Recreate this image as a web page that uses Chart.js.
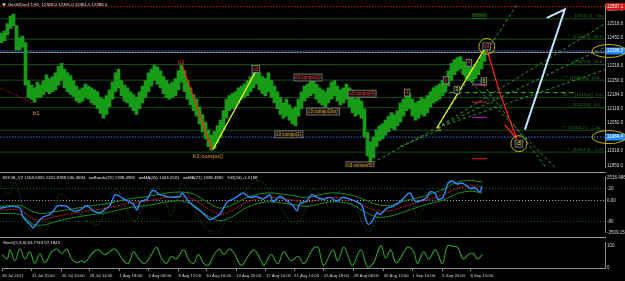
<!DOCTYPE html>
<html>
<head>
<meta charset="utf-8">
<script src="https://cdn.jsdelivr.net/npm/chart.js@4.4.0/dist/chart.umd.min.js"></script>
<style>
html, body { margin: 0; padding: 0; background: #000; }
#wrap { position: relative; width: 625px; height: 281px; background: #000; overflow: hidden; }
canvas { position: absolute; left: 0; }
.sep { position: absolute; left: 0; width: 606px; height: 1px; background: #9a9a9a; }
</style>
</head>
<body>
<div id="wrap">
  <canvas id="priceChart" width="625" height="172" style="top:0"></canvas>
  <div class="sep" style="top:172px"></div>
  <canvas id="boobChart" width="625" height="64" style="top:173px"></canvas>
  <div class="sep" style="top:237px"></div>
  <canvas id="stochChart" width="625" height="43" style="top:238px"></canvas>
</div>
<script>
// Ger30Dec17 H1 - one slot = a few hourly bars
const slotSpan = 201.7;

const priceHigh = [12473, 12482, 12517, 12553, 12562, 12508, 12450, 12459, 12428, 12250,
  12228, 12215, 12242, 12228, 12250, 12277, 12259, 12268, 12286, 12317,
  12330, 12304, 12286, 12273, 12250, 12224, 12206, 12215, 12233, 12224,
  12215, 12206, 12197, 12170, 12162, 12179, 12206, 12242, 12286, 12304,
  12250, 12228, 12215, 12197, 12184, 12170, 12197, 12224, 12250, 12286,
  12304, 12322, 12313, 12295, 12268, 12250, 12233, 12242, 12259, 12295,
  12322, 12295, 12250, 12215, 12184, 12162, 12126, 12090, 12055, 12019,
  11993, 12010, 12037, 12064, 12108, 12162, 12179, 12188, 12197, 12215,
  12224, 12233, 12250, 12268, 12286, 12304, 12286, 12268, 12259, 12286,
  12250, 12224, 12197, 12170, 12144, 12162, 12135, 12117, 12126, 12162,
  12197, 12224, 12233, 12250, 12259, 12233, 12215, 12206, 12197, 12215,
  12242, 12250, 12224, 12206, 12215, 12233, 12215, 12179, 12162, 12170,
  12153, 12117, 12006, 11962, 11984, 12019, 12037, 12046, 12064, 12082,
  12099, 12090, 12108, 12144, 12162, 12179, 12188, 12162, 12144, 12153,
  12170, 12162, 12179, 12197, 12215, 12224, 12233, 12250, 12268, 12295,
  12330, 12348, 12357, 12362, 12339, 12330, 12322, 12313, 12322, 12339,
  12366, 12393];
const priceLow = [12428, 12437, 12464, 12495, 12508, 12393, 12393, 12406, 12228, 12170,
  12162, 12148, 12170, 12170, 12184, 12197, 12188, 12197, 12206, 12228,
  12250, 12215, 12197, 12184, 12175, 12153, 12144, 12153, 12170, 12162,
  12144, 12135, 12117, 12095, 12073, 12090, 12126, 12162, 12197, 12215,
  12179, 12153, 12144, 12126, 12108, 12090, 12117, 12144, 12170, 12197,
  12224, 12250, 12233, 12215, 12188, 12170, 12162, 12170, 12179, 12206,
  12242, 12197, 12162, 12135, 12108, 12082, 12046, 12010, 11975, 11939,
  11922, 11931, 11957, 11984, 12019, 12073, 12108, 12117, 12126, 12144,
  12162, 12170, 12179, 12197, 12215, 12233, 12206, 12188, 12179, 12197,
  12170, 12144, 12117, 12090, 12073, 12082, 12064, 12046, 12037, 12082,
  12117, 12153, 12170, 12179, 12188, 12162, 12144, 12135, 12126, 12144,
  12162, 12179, 12153, 12135, 12144, 12162, 12126, 12099, 12082, 12090,
  12073, 11984, 11895, 11864, 11886, 11939, 11966, 11975, 11993, 12010,
  12028, 12019, 12037, 12055, 12082, 12108, 12117, 12082, 12064, 12073,
  12090, 12082, 12099, 12126, 12144, 12153, 12162, 12179, 12197, 12224,
  12250, 12277, 12295, 12304, 12277, 12259, 12250, 12242, 12259, 12277,
  12304, 12339];

const priceTicks = [12584.0, 12518.0, 12450.0, 12384.0, 12318.0, 12250.0, 12184.0, 12118.0, 12050.0, 11984.0, 11918.0, 11850.0];
const headerText = 'Ger30Dec17,H1  12369.0 12391.0 12361.5 12388.5';

// fibo / target levels drawn across the chart
const fibLevels = [12540.1, 12444.0, 12325.0, 12251.6, 12170.2, 12122.0, 12016.2, 11913.3];
const fibTexts = ['-   [12540.1]   100.0', '*   [12444.0]   38.2', '*   [12325.0]   23.6', '***  [12251.6]   14.6',
  'SL      [12170.2]   0.0', '*   [12122.0]   0.0', '**  [12016.2 ]   -1.4x', '*   [11913.3]   -1.23'];
const fibTextSlot = [190, 189.3, 189.3, 187.7, 187.7, 189.3, 187.7, 189.3];
const slLine = { from: 144.3, to: 191.7, price: 12193 };

const bidPrice = 12388.5;
const askPrice = 12382.0;
const lowLinePrice = 11984.0;
const topLinePrice = 12597.0;
const axisBoxes = [['12597.1', topLinePrice, '#d81414'], ['12388.5', bidPrice, '#1e8cff'], ['11984.4', lowLinePrice, '#1e8cff']];

// hand drawn waves (slot, price)
const waveB1 = [[0, 12215], [11, 12144]];
const waveB2B3 = [[60.7, 12322], [70.7, 11926]];
const waveB3C2 = [[71, 11926], [85.7, 12304]];
const waveC3C4 = [[145.7, 12028], [161.7, 12402]];
const waveC4C5 = [[162.3, 12397], [166.7, 12188], [172.3, 11975]];
const waveC5Tail = [[168.3, 12042], [172.3, 11975]];
const projection = [[182.3, 12544], [188.3, 12584], [175, 12019]];
const fanLines = [
  [[124.3, 11864], [145.7, 12028]],
  [[145.7, 12028], [172.3, 12606]],
  [[145.7, 12028], [201.7, 12517]],
  [[145.7, 12028], [201.7, 12406]],
  [[145.7, 12028], [201.7, 12300]],
  [[133.3, 11939], [146.7, 12019]],
  [[153.3, 12295], [185, 11842]],
  [[160, 12250], [182, 11842]]
];

const waveLabels = ['b1', 'b2', 'b3 compo()', 'c2', 'c3 compo(1)', 'c3 compo(2)', 'c3 compo(3xx)', 'c3 compo(4)', 'c3 compo(5)', '4', 'S', '3', '4', '3', '5', 'c4', 'c5'];
const waveLabelSlot = [11, 59.3, 64.3, 85.3, 96.3, 102.7, 107.7, 120.7, 120, 135.7, 145.7, 148.7, 156.3, 152.3, 161.3, 162.3, 173];
const waveLabelPrice = [12095, 12335, 11895, 12304, 11997, 12264, 12104, 12188, 11851, 12193, 12019, 12251, 12333, 12206, 12246, 12410, 11953];
const waveLabelKind = ['orange', 'red', 'orange', 'redbox', 'orangebox', 'redbox', 'orangebox', 'redbox', 'orangebox', 'redbox', 'yellow', 'redbox', 'redbox', 'yellowbox', 'yellowbox', 'redbox', 'yellowbox'];
const circledMarks = [[162.3, 12410], [173, 11953]];

// short level marks near the last bar
const markFrom = 157.3, markTo = 162.3;
const markPrices = [12562, 12553, 12540, 12233, 12228, 12148, 12077, 11882];
const markColors = ['#1f6a1f', '#1f6a1f', '#1f6a1f', '#2a6cff', '#e02020', '#e02020', '#c020c0', '#e02020'];

// BOOB_V2 sub window
const indMax = 2516.486, indMin = -3509.151;
const blueSlot = [0, 4.3, 6.7, 7.7, 10, 11, 12.3, 14.3, 16.7, 19, 20, 22.3, 24.3, 26.7, 29, 31, 33.3, 34.3, 36.7, 38.3,
  40, 42.3, 44.3, 45.7, 46.7, 49, 51, 53.3, 55.7, 57.7, 60, 60.7, 62.3, 64.3, 66.7, 69, 70, 71.7, 73.3, 75.7,
  77.7, 80, 81, 83.3, 85.7, 87.7, 90, 91, 93.3, 95.7, 97.7, 99, 100, 102.3, 104, 105.7, 107.7, 110, 112.3, 114.3,
  116.7, 119, 120.7, 121.7, 122.7, 124, 125.7, 126.7, 129, 131, 133.3, 135.7, 136.7, 138.3, 140, 142.3, 143.3, 145, 146, 147.7,
  149.3, 150.7, 152.3, 154, 155.7, 156.7, 158.3, 160, 160.7];
const blueVal = [-843, -645, -843, -1831, -2622, -3017, -2523, -1831, -1535, -645, -546, -645, -1140, -1041, -546, -1140, -1337, -1140, -546, 639,
  442, -52, -349, -1041, -151, 145, 1133, 639, 442, 343, 442, 837, 145, -546, -1140, -1831, -2127, -1831, -1535, -151,
  145, 639, 837, 343, 442, 145, 639, -151, 442, -52, -546, -1140, -349, -52, 639, 343, 145, 343, -52, 343,
  145, -151, -546, -1831, -2622, -2325, -1337, -1535, -843, -645, -151, 639, 837, -52, -52, 343, 936, 837, 145, 343,
  1825, 2121, 1825, 1924, 1627, 1331, 1430, 936, 1627];
const maSlot = [0, 6.7, 11, 14.3, 17.7, 22.3, 29, 35.7, 42.3, 49, 55.7, 60, 64.3, 69, 73.3, 77.7, 82.3, 89, 95.7, 102.3,
  110, 116.7, 121, 125.7, 130, 135.7, 141, 147.7, 152.3, 156.7, 160.7];
const maVal = [-1041, -1041, -2028, -2127, -1831, -1535, -1140, -843, -349, -52, 343, 442, 145, -843, -1535, -1041, -151, 343, 145, -151,
  343, 145, -546, -1140, -1140, -546, -52, 639, 1331, 1627, 1430];
const bandUpper = [-645, -546, -1238, -1436, -1238, -1041, -645, -349, 145, 442, 837, 936, 738, -151, -843, -448, 343, 837, 639, 343,
  837, 639, 145, -448, -546, 46, 442, 1232, 2022, 2220, 2022];
const bandLower = [-1436, -1535, -2622, -2720, -2424, -2028, -1634, -1337, -843, -546, -151, -52, -448, -1634, -2226, -1733, -744, -151, -349, -645,
  -151, -349, -1140, -1831, -1733, -1140, -546, 46, 738, 1034, 837];
const wprSlot = [0, 3, 5, 8, 10, 12, 15, 18, 20, 24, 28, 33, 36, 39, 42, 45, 49, 52, 55, 57, 60.7, 64, 67, 70, 73, 77, 81, 85.7, 89,
  93, 98, 101, 104, 107, 110, 113, 116, 119, 121, 123.3, 126, 130, 133, 136.7, 139, 142, 145.7, 149, 151, 153, 156, 158.3, 161];
const wprVal = [-12, -30, -8, -60, -95, -88, -98, -60, -30, -45, -75, -85, -40, -20, -55, -80, -35, -15, -40, -70, -10, -45, -80, -98, -100,
  -55, -30, -5, -15, -50, -85, -70, -20, -35, -55, -25, -45, -60, -85, -100, -70, -55, -45, -30, -70, -50, -40, -10, -4, -12, -25, -18, -2];
const indTickValues = [indMax, 0, indMin];
const indTickText = ['2516.486', '0.00', '-3509.151'];
const wprLevels = [-20, -80];
const indHeader = 'BOOB_V2 1558.5955 1241.8789 530.3684   ==Bands(21) 1338.4992   ==MA(45) 1443.2531   ==MA(21) 1338.4992   %R(24) -1.5198';

// Stochastic sub window
const stochSlot = [0, 1.7, 2.7, 4.3, 6, 7.7, 9.3, 11, 12.7, 14.3, 16.7, 18.3, 20, 21.7, 23.3, 25, 26.7, 27.7, 30.7, 32.3,
  34.3, 36, 37.7, 40.7, 42.3, 44, 45.7, 47.7, 50, 51.7, 53.3, 55, 56.7, 58.3, 60.7, 62.3, 64, 65.7, 67.3, 69,
  71, 72.7, 74.3, 76, 77.7, 80, 82.3, 84.3, 86.7, 87.7, 90, 92.3, 94.3, 96.7, 99, 101, 104, 105.7, 106.7, 107.7,
  110.7, 112.3, 114.3, 116, 117.3, 120, 122.3, 124.3, 126.7, 128.3, 130, 131.7, 133.3, 135.7, 137.7, 139, 141, 142.7, 145, 147.3,
  149, 150.7, 152.3, 154.3, 156, 157.7, 159, 160.7];
const stochVal = [60, 40, 80, 32, 84, 40, 72, 20, 64, 24, 72, 84, 64, 84, 40, 24, 32, 24, 72, 80,
  60, 72, 84, 32, 20, 72, 40, 20, 60, 92, 44, 20, 52, 40, 80, 40, 20, 60, 24, 12,
  60, 84, 60, 84, 64, 12, 52, 80, 32, 12, 60, 20, 72, 32, 52, 20, 84, 92, 44, 12,
  80, 32, 92, 44, 12, 80, 4, 24, 98, 44, 80, 24, 44, 92, 72, 20, 72, 40, 80, 20,
  98, 97, 92, 40, 60, 64, 40, 60];
const stochTicks = [100, 0];
const stochHeader = 'Stoch(5,3,3) 63.7743 57.1843';

const timeSlots = [0, 10, 20, 29.3, 39.3, 49, 59, 68.3, 78.3, 88.3, 97.7, 107.7, 117.7, 127.7, 137.3, 147.3, 156.7];
const timeLabels = ['19 Jul 2017', '21 Jul 20:00', '26 Jul 10:00', '28 Jul 14:00', '1 Aug 18:00', '4 Aug 08:00', '8 Aug 12:00',
  '10 Aug 16:00', '14 Aug 20:00', '17 Aug 10:00', '21 Aug 14:00', '23 Aug 18:00', '28 Aug 08:00', '30 Aug 12:00',
  '1 Sep 16:00', '5 Sep 20:00', '8 Sep 10:00'];

const FONT = 'Liberation Sans';
const AXIS_TXT = '#d2d2d2';
const BORDER = '#8c8c8c';

function pts(list) {
  return list.map(p => ({ x: p[0], y: p[1] }));
}

function seg(data, color, width, dash, axis, order) {
  return {
    type: 'line', data: data, borderColor: color, borderWidth: width, borderDash: dash || [],
    pointRadius: 0, tension: 0, yAxisID: axis || 'y', order: order === undefined ? 1 : order
  };
}

function rightAxis(extra) {
  return Object.assign({
    position: 'right',
    afterFit: s => { s.width = 20; },
    grid: { display: false, drawTicks: false },
    border: { display: true, color: BORDER, width: 1 },
    ticks: { color: AXIS_TXT, font: { family: FONT, size: 4.5 }, padding: 2, autoSkip: false }
  }, extra);
}

// title text in the top-left corner of each window
const paneTitle = {
  id: 'paneTitle',
  afterDraw(chart, args, opts) {
    if (!opts.text) return;
    const ctx = chart.ctx;
    ctx.save();
    ctx.fillStyle = '#e0e0e0';
    ctx.font = '4.3px "' + FONT + '"';
    ctx.textBaseline = 'middle';
    ctx.fillText(opts.text, opts.x, opts.y);
    if (opts.arrow) {
      ctx.beginPath();
      ctx.moveTo(2, opts.y - 1.5);
      ctx.lineTo(6, opts.y - 1.5);
      ctx.lineTo(4, opts.y + 1.5);
      ctx.closePath();
      ctx.fill();
    }
    ctx.restore();
  }
};

// wave labels, level captions, circles and coloured price boxes
const waveMarks = {
  id: 'waveMarks',
  afterDatasetsDraw(chart) {
    const { ctx, chartArea } = chart;
    const x = chart.scales.x, y = chart.scales.y;
    ctx.save();
    ctx.beginPath();
    ctx.rect(chartArea.left, chartArea.top, chartArea.right - chartArea.left, chartArea.bottom - chartArea.top);
    ctx.clip();

    ctx.font = '4.2px "' + FONT + '"';
    ctx.fillStyle = '#2b7a2b';
    ctx.textBaseline = 'bottom';
    fibLevels.forEach((lv, i) => {
      ctx.fillText(fibTexts[i], x.getPixelForValue(fibTextSlot[i]), y.getPixelForValue(lv) - 0.5);
    });

    const colors = { orange: '#f0a020', red: '#ff2a2a', yellow: '#f0e020' };
    ctx.textBaseline = 'middle';
    waveLabels.forEach((t, i) => {
      const kind = waveLabelKind[i];
      const px = x.getPixelForValue(waveLabelSlot[i]);
      const py = y.getPixelForValue(waveLabelPrice[i]);
      const base = kind.replace('box', '');
      if (kind.endsWith('box')) {
        ctx.font = '4.5px "' + FONT + '"';
        const w = ctx.measureText(t).width + 3;
        ctx.fillStyle = '#151515';
        ctx.fillRect(px - w / 2, py - 3.5, w, 7);
        ctx.strokeStyle = '#8a8a8a';
        ctx.lineWidth = 0.8;
        ctx.strokeRect(px - w / 2, py - 3.5, w, 7);
        ctx.fillStyle = colors[base];
        ctx.textAlign = 'center';
        ctx.fillText(t, px, py + 0.3);
      } else {
        ctx.font = '6px "' + FONT + '"';
        ctx.fillStyle = colors[base];
        ctx.textAlign = 'left';
        ctx.fillText(t, px, py);
      }
    });

    ctx.strokeStyle = '#c8b400';
    ctx.lineWidth = 1;
    circledMarks.forEach(c => {
      ctx.beginPath();
      ctx.arc(x.getPixelForValue(c[0]), y.getPixelForValue(c[1]), 8, 0, Math.PI * 2);
      ctx.stroke();
    });
    ctx.restore();

    // price boxes on the axis
    ctx.save();
    ctx.font = '4.5px "' + FONT + '"';
    ctx.textBaseline = 'middle';
    axisBoxes.forEach(b => {
      const py = y.getPixelForValue(b[1]);
      ctx.fillStyle = b[2];
      ctx.fillRect(chartArea.right + 1, py - 3.5, 19, 7);
      ctx.fillStyle = '#ffffff';
      ctx.fillText(b[0], chartArea.right + 2, py);
    });
    ctx.strokeStyle = '#c8b400';
    ctx.lineWidth = 1;
    [bidPrice, lowLinePrice].forEach(p => {
      ctx.beginPath();
      ctx.ellipse(chartArea.right + 4, y.getPixelForValue(p), 17, 6.5, 0, 0, Math.PI * 2);
      ctx.stroke();
    });
    ctx.restore();
  }
};

const priceDatasets = [];
// horizontal levels
fibLevels.forEach(lv => priceDatasets.push(seg(pts([[0, lv], [slotSpan, lv]]), '#154f15', 1, [], 'y', 20)));
priceDatasets.push(seg(pts([[0, topLinePrice], [slotSpan, topLinePrice]]), '#d81414', 1, [1.5, 1.5], 'y', 20));
priceDatasets.push(seg(pts([[0, askPrice], [slotSpan, askPrice]]), '#8a8a8a', 1, [], 'y', 20));
priceDatasets.push(seg(pts([[0, bidPrice], [slotSpan, bidPrice]]), '#2a7cff', 1, [1.5, 1.5], 'y', 19));
priceDatasets.push(seg(pts([[0, lowLinePrice], [slotSpan, lowLinePrice]]), '#2a7cff', 1, [1.5, 1.5], 'y', 19));
priceDatasets.push(seg(pts([[slLine.from, slLine.price], [slLine.to, slLine.price]]), '#2fb52f', 1, [5, 3], 'y', 18));
// price bars
priceDatasets.push({
  type: 'bar',
  data: priceHigh.map((h, i) => ({ x: i + 0.5, y: [priceLow[i], h] })),
  backgroundColor: '#189c18', borderWidth: 0, barThickness: 3, order: 10
});
// fan lines and waves
fanLines.forEach(f => priceDatasets.push(seg(pts(f), '#2d9e2d', 1, [3, 2.5], 'y', 5)));
markPrices.forEach((p, i) => priceDatasets.push(seg(pts([[markFrom, p], [markTo, p]]), markColors[i], 1, [], 'y', 4)));
priceDatasets.push(seg(pts(waveB1), '#c01010', 1, [1.5, 1.5]));
priceDatasets.push(seg(pts(waveB2B3), '#ff2020', 1.3));
priceDatasets.push(seg(pts(waveB3C2), '#ffff20', 1.2));
priceDatasets.push(seg(pts(waveC3C4), '#ffff20', 1.2));
priceDatasets.push(seg(pts(waveC4C5), '#ff2020', 1.3));
priceDatasets.push(seg(pts(waveC5Tail), '#ff2020', 1.3));
priceDatasets.push(seg(pts(projection), '#bfe6ff', 2));

new Chart(document.getElementById('priceChart'), {
  type: 'bar',
  data: { datasets: priceDatasets },
  options: {
    responsive: false, animation: false, events: [],
    layout: { padding: 0 },
    plugins: {
      legend: { display: false }, tooltip: { enabled: false },
      paneTitle: { text: headerText, x: 8, y: 5, arrow: true }
    },
    scales: {
      x: { type: 'linear', min: 0, max: slotSpan, offset: false, display: false },
      y: rightAxis({
        min: 11842, max: 12606,
        afterBuildTicks: s => { s.ticks = priceTicks.map(v => ({ value: v })); },
        ticks: { color: AXIS_TXT, font: { family: FONT, size: 4.5 }, padding: 2, autoSkip: false, callback: v => v.toFixed(1) }
      })
    }
  },
  plugins: [paneTitle, waveMarks]
});

// BOOB_V2 window
const boobDatasets = [
  seg(pts([[0, 0], [slotSpan, 0]]), '#b0b0b0', 1, [1, 2], 'y', 20),
  seg(pts([[0, wprLevels[0]], [slotSpan, wprLevels[0]]]), '#1f6f1f', 1, [1, 2], 'yR', 20),
  seg(pts([[0, wprLevels[1]], [slotSpan, wprLevels[1]]]), '#1f6f1f', 1, [1, 2], 'yR', 20),
  seg(wprSlot.map((s, i) => ({ x: s, y: wprVal[i] })), '#1c601c', 1, [1, 1.5], 'yR', 15),
  seg(maSlot.map((s, i) => ({ x: s, y: bandUpper[i] })), '#1f8a1f', 1, [], 'y', 10),
  seg(maSlot.map((s, i) => ({ x: s, y: bandLower[i] })), '#1f8a1f', 1, [], 'y', 10),
  seg(maSlot.map((s, i) => ({ x: s, y: maVal[i] })), '#e02020', 1, [1.5, 1], 'y', 5),
  seg(blueSlot.map((s, i) => ({ x: s, y: blueVal[i] })), '#2a8cff', 1.4, [], 'y', 1)
];
boobDatasets.forEach(d => { d.tension = 0.3; });

new Chart(document.getElementById('boobChart'), {
  type: 'line',
  data: { datasets: boobDatasets },
  options: {
    responsive: false, animation: false, events: [],
    layout: { padding: { top: 3, bottom: 0, left: 0, right: 0 } },
    plugins: {
      legend: { display: false }, tooltip: { enabled: false },
      paneTitle: { text: indHeader, x: 3, y: 5 }
    },
    scales: {
      x: { type: 'linear', min: 0, max: slotSpan, offset: false, display: false },
      yR: { type: 'linear', min: -100, max: 0, display: false },
      y: rightAxis({
        min: indMin, max: indMax,
        afterBuildTicks: s => {
          const r = v => indMax + v / 100 * (indMax - indMin);
          s.ticks = [indTickValues[0], r(wprLevels[0]), indTickValues[1], r(wprLevels[1]), indTickValues[2]].map(v => ({ value: v }));
        },
        ticks: {
          color: AXIS_TXT, font: { family: FONT, size: 4.5 }, padding: 2, autoSkip: false,
          callback: (v, i) => [indTickText[0], String(wprLevels[0]), indTickText[1], String(wprLevels[1]), indTickText[2]][i]
        }
      })
    }
  },
  plugins: [paneTitle]
});

// Stochastic window with the time axis
new Chart(document.getElementById('stochChart'), {
  type: 'line',
  data: {
    datasets: [
      Object.assign(seg(stochSlot.map((s, i) => ({ x: s, y: stochVal[i] })), '#2e9e2e', 1.1), { tension: 0.4 })
    ]
  },
  options: {
    responsive: false, animation: false, events: [],
    layout: { padding: { top: 2, bottom: 0, left: 0, right: 0 } },
    plugins: {
      legend: { display: false }, tooltip: { enabled: false },
      paneTitle: { text: stochHeader, x: 3, y: 5 }
    },
    scales: {
      x: {
        type: 'linear', min: 0, max: slotSpan, offset: false,
        afterBuildTicks: s => { s.ticks = timeSlots.map(v => ({ value: v })); },
        afterFit: s => { s.height = 13; },
        ticks: {
          autoSkip: false, minRotation: 0, maxRotation: 0, align: 'start', padding: 2,
          color: AXIS_TXT, font: { family: FONT, size: 4.2 },
          callback: (v, i) => timeLabels[i]
        },
        grid: { drawOnChartArea: false, drawTicks: true, tickLength: 3, color: BORDER },
        border: { display: true, color: BORDER }
      },
      y: rightAxis({
        min: 0, max: 112,
        afterBuildTicks: s => { s.ticks = stochTicks.map(v => ({ value: v })); },
        ticks: { color: AXIS_TXT, font: { family: FONT, size: 4.5 }, padding: 2, autoSkip: false, callback: v => String(v) }
      })
    }
  },
  plugins: [paneTitle]
});
</script>
</body>
</html>
